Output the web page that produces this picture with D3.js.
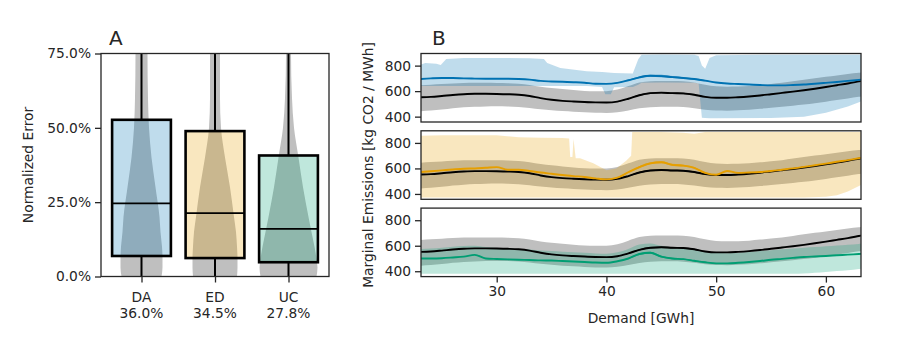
<!DOCTYPE html>
<html>
<head>
<meta charset="utf-8">
<script src="https://cdn.jsdelivr.net/npm/d3@7"></script>
<style>
  body { margin: 0; background: #fff; }
  text { font-family: "DejaVu Sans", sans-serif; fill: #262626; }
</style>
</head>
<body>
<div id="chart"></div>
<script>
// ---- panel A data ----
const cats = ["DA", "ED", "UC"];
const catPct = ["36.0%", "34.5%", "27.8%"];
const boxQ1 = [0.069, 0.062, 0.048];
const boxMed = [0.246, 0.213, 0.160];
const boxQ3 = [0.527, 0.489, 0.407];
const violinLevels = [0, 0.03, 0.06, 0.1, 0.15, 0.2, 0.3, 0.4, 0.5, 0.6, 0.75, 0.8];
const violinDA = [20, 21, 21, 20.5, 19, 18, 14, 10, 7.5, 6.5, 6, 6];
const violinED = [22, 22.5, 22.5, 22, 21, 19, 15, 10, 6, 5, 5, 5];
const violinUC = [28, 29, 28, 26, 23, 20, 14.5, 10, 5.5, 3.5, 2.5, 2.5];

// ---- panel B data ----
const demand = [23, 24, 25, 26, 27, 28, 29, 30, 31, 32, 33, 34, 35, 36, 37, 38, 39, 40, 41, 42,
  43, 44, 45, 46, 47, 48, 49, 50, 51, 52, 53, 54, 55, 56, 57, 58, 59, 60, 61, 62, 63, 64];
const refLine = [552, 555, 562, 570, 576, 579, 579, 578, 576, 572, 562, 545, 532, 524, 519, 515, 512, 511, 518, 540,
  568, 584, 588, 584, 582, 572, 555, 548, 548, 552, 558, 566, 576, 586, 596, 607, 619, 632, 646, 660, 676, 692];
const refNoise = [0, 0, 0, 0, 0, 0, 0, 0, 0, 0, 0, 0, 0, 0, 0, 0, 0, 0, 1, 3,
  5, 6, 6, 6, 6, 5, 3, 1, 0, 0, 0, 0, 0, 0, 0, 0, 0, 0, 0, 0, 0, 0];
const refUpper = [645, 650, 655, 660, 664, 665, 665, 664, 662, 658, 648, 634, 624, 616, 608, 602, 599, 600, 612, 640,
  668, 678, 680, 680, 678, 668, 650, 638, 635, 636, 640, 648, 656, 665, 677, 690, 701, 712, 723, 735, 745, 755];
const refLower = [442, 448, 456, 466, 473, 477, 480, 481, 480, 476, 468, 458, 450, 444, 439, 434, 430, 429, 435, 448,
  465, 474, 478, 478, 475, 466, 455, 448, 447, 450, 455, 462, 470, 478, 486, 495, 505, 517, 530, 543, 556, 570];

const daLine = [695, 700, 703, 703, 700, 698, 697, 697, 697, 695, 690, 680, 676, 673, 670, 666, 658, 657, 665, 685,
  708, 720, 718, 710, 703, 695, 682, 668, 660, 656, 652, 648, 645, 645, 648, 652, 658, 665, 672, 680, 688, 696];
const daNoise = [0, 0, 0, 0, 0, 0, 0, 0, 0, 0, 0, 0, 0, 0, 0, 0, 1, 1, 2, 4,
  7, 8, 10, 8, 6, 5, 4, 2, 1, 0, 0, 0, 0, 0, 0, 0, 0, 0, 0, 0, 0, 0];
const daBandX = [23, 23.5, 24.5, 24.9, 25.4, 27, 30, 33, 34.3, 34.6, 35.8, 38.2, 39.6, 39.9, 40.4, 40.7, 42.4, 42.9,
  43.2, 45, 48, 48.4, 48.7, 49, 49.4, 50, 55, 58, 60, 62, 63.4];
const daBandUpper = [805, 821, 815, 804, 852, 860, 860, 858, 852, 821, 782, 756, 750, 748, 745, 742, 738, 849,
  885, 888, 885, 875, 800, 775, 860, 882, 885, 885, 885, 885, 885];
const daBandLower = [640, 640, 640, 640, 640, 640, 640, 640, 640, 640, 640, 640, 632, 575, 575, 630, 633, 650,
  665, 668, 665, 660, 392, 390, 388, 388, 390, 400, 430, 480, 525];

const edLine = [572, 578, 585, 592, 598, 600, 605, 610, 590, 590, 580, 568, 558, 548, 540, 533, 522, 514, 528, 570,
  610, 640, 648, 628, 622, 605, 565, 550, 580, 565, 568, 572, 580, 590, 600, 612, 625, 638, 652, 665, 680, 695];
const edNoise = [0, 0, 0, 0, 0, 0, 0, 0, 0, 0, 0, 0, 0, 0, 0, 0, 1, 2, 3, 6,
  8, 8, 8, 8, 7, 6, 5, 3, 2, 1, 0, 0, 0, 0, 0, 0, 0, 0, 0, 0, 0, 0];
const edBandX = [23, 25, 30, 32, 34, 36, 36.6, 36.7, 36.9, 37.0, 37.2, 37.4, 37.6, 38.8, 40.0, 40.9, 41.8, 42.25,
  42.35, 45, 47, 48, 49, 52, 58, 60, 61, 62, 63.4];
const edBandUpper = [855, 860, 860, 845, 840, 838, 835, 690, 690, 830, 680, 680, 680, 640, 586, 600, 660, 700,
  885, 885, 880, 872, 885, 885, 885, 885, 885, 885, 885];
const edBandLower = [372, 372, 372, 372, 372, 372, 372, 372, 372, 372, 372, 372, 372, 372, 372, 372, 372, 372,
  372, 372, 372, 372, 372, 372, 372, 378, 390, 420, 478];

const ucLine = [500, 500, 502, 508, 515, 528, 500, 496, 493, 490, 488, 485, 484, 480, 476, 472, 468, 466, 478, 500,
  535, 545, 515, 500, 495, 482, 470, 462, 462, 466, 472, 480, 490, 497, 505, 512, 516, 520, 525, 530, 535, 540];
const ucNoise = [0, 0, 0, 0, 0, 1, 0, 0, 0, 0, 0, 0, 0, 0, 0, 0, 0, 0, 2, 4,
  7, 8, 7, 6, 5, 5, 4, 2, 0, 0, 0, 0, 0, 0, 0, 0, 0, 0, 0, 0, 0, 0];
const ucUpper = [575, 578, 585, 592, 598, 600, 590, 582, 578, 575, 570, 562, 558, 553, 548, 544, 540, 538, 548, 575,
  610, 618, 600, 585, 578, 568, 555, 545, 542, 545, 550, 558, 565, 572, 578, 585, 590, 596, 602, 608, 614, 620];
const ucLower = [380, 380, 380, 380, 380, 380, 380, 380, 380, 380, 380, 380, 380, 380, 380, 380, 380, 380, 380, 380,
  380, 380, 380, 380, 380, 380, 380, 380, 380, 380, 380, 380, 380, 380, 380, 382, 388, 395, 402, 408, 418, 430];

const xTicksB = [30, 40, 50, 60];
const yTicksB = [400, 600, 800];
const yTicksA = [0, 0.25, 0.5, 0.75];

const colors = { DA: "#0072b2", ED: "#e69f00", UC: "#009e73" };
const greyFill = "#bfbfbf";
const ink = "#262626";
const fs = "13.8px";

const svg = d3.select("#chart").append("svg")
  .attr("width", 900).attr("height", 346);

// ================= panel A =================
const A = { left: 101, right: 329, top: 53.5, bottom: 276.5 };
const xA = d3.scalePoint().domain(cats).range([A.left, A.right]).padding(0.551);
const yA = d3.scaleLinear().domain([0, 0.75]).range([A.bottom, A.top]);
const wA = d3.scaleLinear().domain([0, 1]).range([0, 1]); // density -> px half width
const boxW = xA.step() * 0.8;

svg.append("clipPath").attr("id", "clipA").append("rect")
  .attr("x", A.left).attr("y", A.top).attr("width", A.right - A.left).attr("height", A.bottom - A.top);

const gA = svg.append("g").attr("clip-path", "url(#clipA)");
const violins = [violinDA, violinED, violinUC];

cats.forEach((c, i) => {
  const cx = xA(c);
  const pts = violinLevels.map((lv, j) => ({ lv: lv, w: violins[i][j] }));
  const area = d3.area()
    .y(d => yA(d.lv))
    .x0(d => cx - wA(d.w))
    .x1(d => cx + wA(d.w))
    .curve(d3.curveMonotoneY);
  gA.append("path").datum(pts).attr("d", area).attr("fill", greyFill);
});

cats.forEach((c, i) => {
  const cx = xA(c);
  // whiskers
  gA.append("line").attr("x1", cx).attr("x2", cx).attr("y1", yA(boxQ3[i])).attr("y2", A.top - 5)
    .attr("stroke", "#000").attr("stroke-width", 2);
  gA.append("line").attr("x1", cx).attr("x2", cx).attr("y1", yA(boxQ1[i])).attr("y2", A.bottom + 5)
    .attr("stroke", "#000").attr("stroke-width", 2);
  // box
  gA.append("rect")
    .attr("x", cx - boxW / 2).attr("width", boxW)
    .attr("y", yA(boxQ3[i])).attr("height", yA(boxQ1[i]) - yA(boxQ3[i]))
    .attr("fill", colors[c]).attr("fill-opacity", 0.25)
    .attr("stroke", "#000").attr("stroke-width", 2.6);
  gA.append("line")
    .attr("x1", cx - boxW / 2).attr("x2", cx + boxW / 2)
    .attr("y1", yA(boxMed[i])).attr("y2", yA(boxMed[i]))
    .attr("stroke", "#000").attr("stroke-width", 1.8);
});

svg.append("rect").attr("x", A.left).attr("y", A.top)
  .attr("width", A.right - A.left).attr("height", A.bottom - A.top)
  .attr("fill", "none").attr("stroke", ink).attr("stroke-width", 1.3);

const axA = svg.append("g").attr("transform", "translate(" + A.left + ",0)")
  .call(d3.axisLeft(yA).tickValues(yTicksA).tickFormat(d => (d * 100).toFixed(1) + "%").tickSize(6).tickPadding(4));
axA.select(".domain").remove();
axA.selectAll("line").attr("stroke", ink).attr("stroke-width", 1.3);
axA.selectAll("text").style("font-size", fs).attr("fill", ink);

const axAx = svg.append("g").attr("transform", "translate(0," + A.bottom + ")")
  .call(d3.axisBottom(xA).tickSize(6).tickFormat(""));
axAx.select(".domain").remove();
axAx.selectAll("line").attr("stroke", ink).attr("stroke-width", 1.3);

cats.forEach((c, i) => {
  const t = svg.append("text").attr("text-anchor", "middle").style("font-size", fs);
  t.append("tspan").attr("x", xA(c)).attr("y", 302).text(c);
  t.append("tspan").attr("x", xA(c)).attr("y", 318).text(catPct[i]);
});

svg.append("text").attr("transform", "translate(33,165) rotate(-90)")
  .attr("text-anchor", "middle").style("font-size", fs).text("Normalized Error");
svg.append("text").attr("x", 109).attr("y", 45).style("font-size", "20px").text("A");

// ================= panel B =================
const B = { left: 421, right: 861 };
const subTop = [53.5, 130.8, 208.1];
const subH = 68.5;
const xB = d3.scaleLinear().domain([23.1, 63.2]).range([B.left, B.right]);

const panels = [
  { key: "DA", line: daLine, noise: daNoise, bx: daBandX, bu: daBandUpper, bl: daBandLower },
  { key: "ED", line: edLine, noise: edNoise, bx: edBandX, bu: edBandUpper, bl: edBandLower },
  { key: "UC", line: ucLine, noise: ucNoise, bx: demand, bu: ucUpper, bl: ucLower }
];

panels.forEach((p, k) => {
  const top = subTop[k];
  const yB = d3.scaleLinear().domain([358, 895]).range([top + subH, top]);
  const cid = "clipB" + k;
  svg.append("clipPath").attr("id", cid).append("rect")
    .attr("x", B.left).attr("y", top).attr("width", B.right - B.left).attr("height", subH);
  const g = svg.append("g").attr("clip-path", "url(#" + cid + ")");

  const smoothBand = d3.area().x(d => xB(d.x)).y0(d => yB(d.lo)).y1(d => yB(d.hi)).curve(d3.curveMonotoneX);
  const sharpBand = d3.area().x(d => xB(d.x)).y0(d => yB(d.lo)).y1(d => yB(d.hi));
  const lineGen = d3.line().x(d => xB(d.x)).y(d => yB(d.y)).curve(d3.curveMonotoneX);

  // reference spread (grey)
  const refBand = demand.map((x, i) => ({ x: x, lo: refLower[i], hi: refUpper[i] }));
  g.append("path").datum(refBand).attr("d", smoothBand).attr("fill", greyFill);

  // model spread
  const band = p.bx.map((x, i) => ({ x: x, lo: p.bl[i], hi: p.bu[i] }));
  g.append("path").datum(band).attr("d", p.key === "UC" ? smoothBand : sharpBand)
    .attr("fill", colors[p.key]).attr("fill-opacity", 0.25);

  // reference line with its scatter
  const refN = demand.map((x, i) => ({ x: x, lo: refLine[i] - refNoise[i], hi: refLine[i] + refNoise[i] }));
  g.append("path").datum(refN).attr("d", smoothBand).attr("fill", "#000").attr("fill-opacity", 0.7);
  g.append("path").datum(demand.map((x, i) => ({ x: x, y: refLine[i] })))
    .attr("d", lineGen).attr("fill", "none").attr("stroke", "#000").attr("stroke-width", 1.9);

  // model line with its scatter
  const mN = demand.map((x, i) => ({ x: x, lo: p.line[i] - p.noise[i], hi: p.line[i] + p.noise[i] }));
  g.append("path").datum(mN).attr("d", smoothBand).attr("fill", colors[p.key]).attr("fill-opacity", 0.7);
  g.append("path").datum(demand.map((x, i) => ({ x: x, y: p.line[i] })))
    .attr("d", lineGen).attr("fill", "none").attr("stroke", colors[p.key]).attr("stroke-width", 1.9);

  svg.append("rect").attr("x", B.left).attr("y", top)
    .attr("width", B.right - B.left).attr("height", subH)
    .attr("fill", "none").attr("stroke", ink).attr("stroke-width", 1.3);

  const ay = svg.append("g").attr("transform", "translate(" + B.left + ",0)")
    .call(d3.axisLeft(yB).tickValues(yTicksB).tickSize(6).tickPadding(4));
  ay.select(".domain").remove();
  ay.selectAll("line").attr("stroke", ink).attr("stroke-width", 1.3);
  ay.selectAll("text").style("font-size", fs).attr("fill", ink);

  if (k === 2) {
    const ax = svg.append("g").attr("transform", "translate(0," + (top + subH) + ")")
      .call(d3.axisBottom(xB).tickValues(xTicksB).tickSize(6).tickPadding(4));
    ax.select(".domain").remove();
    ax.selectAll("line").attr("stroke", ink).attr("stroke-width", 1.3);
    ax.selectAll("text").style("font-size", fs).attr("fill", ink);
  }
});

svg.append("text").attr("x", (B.left + B.right) / 2).attr("y", 323)
  .attr("text-anchor", "middle").style("font-size", fs).text("Demand [GWh]");
svg.append("text").attr("transform", "translate(373,165) rotate(-90)")
  .attr("text-anchor", "middle").style("font-size", fs).text("Marginal Emissions [kg CO2 / MWh]");
svg.append("text").attr("x", 432).attr("y", 45).style("font-size", "20px").text("B");
</script>
</body>
</html>
